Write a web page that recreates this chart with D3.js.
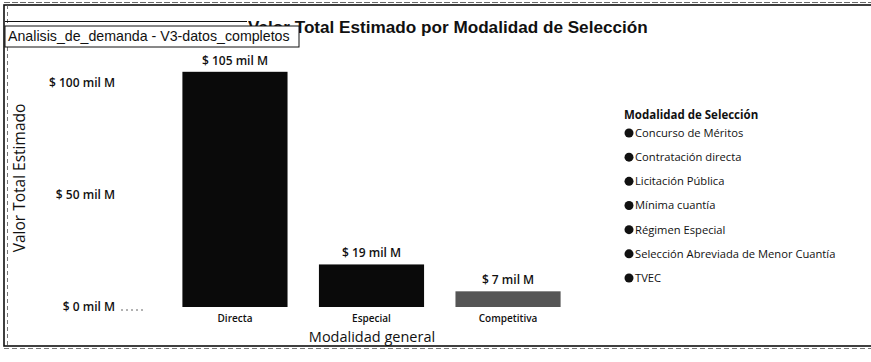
<!DOCTYPE html>
<html>
<head>
<meta charset="utf-8">
<script src="https://cdn.jsdelivr.net/npm/d3@7"></script>
<style>
  html, body { margin: 0; padding: 0; background: #fff; }
  svg { display: block; }
</style>
</head>
<body>
<svg id="chart" width="871" height="362"></svg>
<script>
// Estimated total value (thousands of millions) by general selection modality
const categories = ["Directa", "Especial", "Competitiva"];
const values = [105, 19, 7];
const valueLabels = ["$ 105 mil M", "$ 19 mil M", "$ 7 mil M"];
const yTickValues = [0, 50, 100];
const yTickLabels = ["$ 0 mil M", "$ 50 mil M", "$ 100 mil M"];
const legendTitle = "Modalidad de Selección";
const legendItems = [
  "Concurso de Méritos",
  "Contratación directa",
  "Licitación Pública",
  "Mínima cuantía",
  "Régimen Especial",
  "Selección Abreviada de Menor Cuantía",
  "TVEC"
];
const barColors = ["#0a0a0a", "#0a0a0a", "#555555"];

const svg = d3.select("#chart");
const uiFont = "'Open Sans', 'Noto Sans', sans-serif";
const titleFont = "'Liberation Sans', Arial, sans-serif";
const ink = "#111";

// Scales
const x = d3.scaleBand().domain(categories).range([151, 592]).paddingInner(0.23).paddingOuter(0.23);
const y = d3.scaleLinear().domain([0, 100]).range([307, 83]);

// Outer frame
svg.append("rect")
  .attr("x", 4).attr("y", 5).attr("width", 900).attr("height", 341)
  .attr("fill", "none").attr("stroke", ink).attr("stroke-width", 1.6);
svg.append("line")
  .attr("x1", 4).attr("x2", 871).attr("y1", 2.5).attr("y2", 2.5)
  .attr("stroke", "#444").attr("stroke-width", 0.8).attr("stroke-dasharray", "6 2");
svg.append("line")
  .attr("x1", 4).attr("x2", 871).attr("y1", 348.5).attr("y2", 348.5)
  .attr("stroke", "#555").attr("stroke-width", 0.8).attr("stroke-dasharray", "5 3");
svg.append("line")
  .attr("x1", 7.5).attr("x2", 7.5).attr("y1", 5).attr("y2", 346)
  .attr("stroke", "#555").attr("stroke-width", 0.8).attr("stroke-dasharray", "4 3");
svg.append("line")
  .attr("x1", 5).attr("x2", 247).attr("y1", 21.5).attr("y2", 21.5)
  .attr("stroke", ink).attr("stroke-width", 1);

// Title
const title = svg.append("text")
  .attr("x", 248).attr("y", 33)
  .attr("font-family", titleFont).attr("font-weight", "bold")
  .attr("font-size", 15).attr("fill", ink)
  .text("Valor Total Estimado por Modalidad de Selección");
const tw = title.node().getComputedTextLength();
title.attr("font-size", 15 * 400 / tw);

// Source tag box
svg.append("rect")
  .attr("x", 5).attr("y", 26).attr("width", 294).attr("height", 21)
  .attr("fill", "#fff").attr("stroke", ink).attr("stroke-width", 1);
const tag = svg.append("text")
  .attr("x", 8).attr("y", 41)
  .attr("font-family", titleFont).attr("font-size", 12).attr("fill", ink)
  .text("Analisis_de_demanda - V3-datos_completos");
const tgw = tag.node().getComputedTextLength();
tag.attr("font-size", 12 * 282 / tgw);

// Y axis tick labels
const yAxis = d3.axisLeft(y).tickValues(yTickValues)
  .tickFormat((d, i) => yTickLabels[i]).tickSize(0).tickPadding(0);
const yg = svg.append("g").attr("transform", "translate(115,0)").call(yAxis);
yg.select(".domain").remove();
yg.selectAll("text")
  .attr("font-family", uiFont).attr("font-size", 12).attr("font-weight", 600)
  .attr("fill", ink);

// Zero gridline fragment
svg.append("line")
  .attr("x1", 121).attr("x2", 146).attr("y1", y(0) + 3).attr("y2", y(0) + 3)
  .attr("stroke", "#666").attr("stroke-width", 1).attr("stroke-dasharray", "2 3");

// Y axis title
svg.append("text")
  .attr("transform", "translate(25,178) rotate(-90)")
  .attr("text-anchor", "middle")
  .attr("font-family", uiFont).attr("font-size", 15.5).attr("fill", ink)
  .text("Valor Total Estimado");

// Bars
svg.append("g").selectAll("rect")
  .data(values)
  .join("rect")
  .attr("x", (d, i) => x(categories[i]))
  .attr("y", d => y(d))
  .attr("width", x.bandwidth())
  .attr("height", d => y(0) - y(d))
  .attr("fill", (d, i) => barColors[i]);

// Value labels above bars
svg.append("g").selectAll("text")
  .data(values)
  .join("text")
  .attr("x", (d, i) => x(categories[i]) + x.bandwidth() / 2)
  .attr("y", d => y(d) - 7)
  .attr("text-anchor", "middle")
  .attr("font-family", uiFont).attr("font-size", 12).attr("font-weight", 600)
  .attr("fill", ink)
  .text((d, i) => valueLabels[i]);

// X axis category labels
const xAxis = d3.axisBottom(x).tickSize(0).tickPadding(0);
const xg = svg.append("g").attr("transform", `translate(0,${y(0) + 8})`).call(xAxis);
xg.select(".domain").remove();
xg.selectAll("text")
  .attr("dy", "0.71em")
  .attr("font-family", uiFont).attr("font-size", 10).attr("font-weight", 600)
  .attr("fill", ink);

// X axis title
svg.append("text")
  .attr("x", 372).attr("y", 342)
  .attr("text-anchor", "middle")
  .attr("font-family", uiFont).attr("font-size", 14.5).attr("fill", ink)
  .text("Modalidad general");

// Legend
const legend = svg.append("g").attr("transform", "translate(624,0)");
legend.append("text")
  .attr("x", 0).attr("y", 119)
  .attr("font-family", uiFont).attr("font-size", 11.5).attr("font-weight", 700)
  .attr("fill", ink)
  .text(legendTitle);
const rowY = d3.scalePoint().domain(legendItems).range([133, 278]);
const rows = legend.selectAll("g.item")
  .data(legendItems)
  .join("g").attr("class", "item")
  .attr("transform", d => `translate(0,${rowY(d)})`);
rows.append("circle")
  .attr("cx", 5).attr("cy", 0).attr("r", 4.5).attr("fill", ink);
rows.append("text")
  .attr("x", 11).attr("y", 0).attr("dy", "0.35em")
  .attr("font-family", uiFont).attr("font-size", 11.2).attr("fill", ink)
  .text(d => d);
</script>
</body>
</html>
